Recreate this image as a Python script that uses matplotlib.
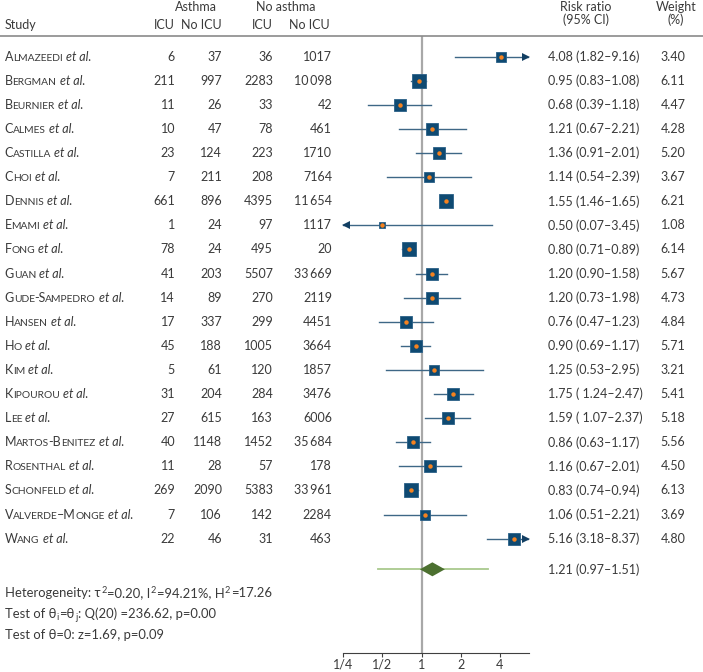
import numpy as np
import matplotlib
matplotlib.use("Agg")
import matplotlib.pyplot as plt
import matplotlib.transforms as mtransforms
from matplotlib.lines import Line2D

# study data
studies = ["Almazeedi", "Bergman", "Beurnier", "Calmes", "Castilla", "Choi", "Dennis",
           "Emami", "Fong", "Guan", "Gude-Sampedro", "Hansen", "Ho", "Kim", "Kipourou",
           "Lee", "Martos-Benitez", "Rosenthal", "Schonfeld", "Valverde\u2013Monge", "Wang"]
asthma_icu = [6, 211, 11, 10, 23, 7, 661, 1, 78, 41, 14, 17, 45, 5, 31, 27, 40, 11, 269, 7, 22]
asthma_noicu = [37, 997, 26, 47, 124, 211, 896, 24, 24, 203, 89, 337, 188, 61, 204, 615, 1148, 28, 2090, 106, 46]
noasthma_icu = [36, 2283, 33, 78, 223, 208, 4395, 97, 495, 5507, 270, 299, 1005, 120, 284, 163, 1452, 57, 5383, 142, 31]
noasthma_noicu = [1017, 10098, 42, 461, 1710, 7164, 11654, 1117, 20, 33669, 2119, 4451, 3664, 1857, 3476, 6006, 35684, 178, 33961, 2284, 463]
rr = [4.08, 0.95, 0.68, 1.21, 1.36, 1.14, 1.55, 0.50, 0.80, 1.20, 1.20, 0.76, 0.90, 1.25, 1.75, 1.59, 0.86, 1.16, 0.83, 1.06, 5.16]
ci_lo = [1.82, 0.83, 0.39, 0.67, 0.91, 0.54, 1.46, 0.07, 0.71, 0.90, 0.73, 0.47, 0.69, 0.53, 1.24, 1.07, 0.63, 0.67, 0.74, 0.51, 3.18]
ci_hi = [9.16, 1.08, 1.18, 2.21, 2.01, 2.39, 1.65, 3.45, 0.89, 1.58, 1.98, 1.23, 1.17, 2.95, 2.47, 2.37, 1.17, 2.01, 0.94, 2.21, 8.37]
weight = [3.40, 6.11, 4.47, 4.28, 5.20, 3.67, 6.21, 1.08, 6.14, 5.67, 4.73, 4.84, 5.71, 3.21, 5.41, 5.18, 5.56, 4.50, 6.13, 3.69, 4.80]
padded_ci = {"Kipourou", "Lee"}

# pooled estimate
pooled_rr, pooled_lo, pooled_hi = 1.21, 0.97, 1.51
pred_lo, pred_hi = 0.46, 3.25

xticks = [0.25, 0.5, 1, 2, 4]
xticklabels = ["1/4", "1/2", "1", "2", "4"]

W, H = 703, 672
FS = 9.0
TXT = "#3a3a3a"
FAM = ["Lato", "DejaVu Sans"]
NAVY = "#0f4a72"
CILINE = "#3e6786"

plt.rcParams["font.family"] = FAM

fig = plt.figure(figsize=(W / 100, H / 100), dpi=100)
renderer = fig.canvas.get_renderer()

# pixel coords measured from top-left
px = mtransforms.Affine2D().scale(1 / W, -1 / H).translate(0, 1) + fig.transFigure

x0, x1, y0, y1 = 343.3, 529.3, 36, 652.5
row0, step = 56.7, 24.1
ax = fig.add_axes([x0 / W, 1 - y1 / H, (x1 - x0) / W, (y1 - y0) / H])
ax.set_xscale("log", base=2)
xmin, xmax = 0.25, 2 ** 2.75
ax.set_xlim(xmin, xmax)
ax.set_ylim((y1 - row0) / step, (y0 - row0) / step)
ax.set_xticks(xticks)
ax.set_xticklabels(xticklabels)
ax.xaxis.set_minor_locator(matplotlib.ticker.NullLocator())
ax.set_yticks([])
for s in ["top", "left", "right"]:
    ax.spines[s].set_visible(False)
ax.spines["bottom"].set_color("#404040")
ax.spines["bottom"].set_linewidth(0.8)
ax.tick_params(axis="x", length=3, width=0.8, color="#404040", pad=1.5,
               labelsize=FS, labelcolor=TXT)
ax.patch.set_alpha(0)

ax.axvline(1, color="#a8a8a8", lw=1.6, zorder=1)

tip_r = mtransforms.offset_copy(ax.transData, fig=fig, x=-3, units="dots")
tip_l = mtransforms.offset_copy(ax.transData, fig=fig, x=3, units="dots")
n = len(studies)
for i in range(n):
    lo, hi = max(ci_lo[i], xmin), min(ci_hi[i], xmax)
    ax.plot([lo, hi], [i, i], color=CILINE, lw=1.0, zorder=2)
    if ci_hi[i] > xmax:
        ax.plot(xmax, i, marker=">", ms=5.5, color="#123f63", mew=0,
                transform=tip_r, clip_on=False, zorder=3)
    if ci_lo[i] < xmin:
        ax.plot(xmin, i, marker="<", ms=5.5, color="#123f63", mew=0,
                transform=tip_l, clip_on=False, zorder=3)
    side = (2.4 + 4.4 * np.sqrt(weight[i])) * 0.72
    ax.plot(rr[i], i, marker="s", ms=side, mfc=NAVY, mec="#2a6088", mew=0.6, zorder=3)
    ax.plot(rr[i], i, marker="o", ms=3.2, mfc="#f5821f", mec="none", zorder=4)
ax.set_xlim(xmin, xmax)

# pooled diamond
yp = n + 0.27
ax.plot([pred_lo, pred_hi], [yp, yp], color="#a9c98d", lw=1.3, zorder=2)
ax.fill([pooled_lo, pooled_rr, pooled_hi, pooled_rr], [yp, yp - 0.29, yp, yp + 0.29],
        color="#4c7030", zorder=3, lw=0)

# header
fig.add_artist(Line2D([0, W], [36, 36], transform=px, color="#8a8a8a", lw=1.2))


def t(x, y, s, ha="left", **kw):
    return fig.text(x, y, s, transform=px, ha=ha, va="center", fontsize=FS, color=TXT, **kw)


t(195.5, 7, "Asthma", ha="center")
t(286, 7, "No asthma", ha="center")
t(5, 25, "Study")
t(175, 25, "ICU", ha="right")
t(222, 25, "No ICU", ha="right")
t(273, 25, "ICU", ha="right")
t(330, 25, "No ICU", ha="right")
t(586, 7, "Risk ratio", ha="center")
t(586, 20, "(95% CI)", ha="center")
t(676, 7, "Weight", ha="center")
t(676, 20, "(%)", ha="center")


def runs(x, y, pieces, base, size=FS):
    off = 0.0
    for txt, scale, style, dy, gap in pieces:
        off += gap
        tf = mtransforms.offset_copy(base, fig=fig, x=off, y=-dy, units="dots")
        tx = fig.text(x, y, txt, transform=tf, ha="left", va="baseline",
                      fontsize=size * scale, style=style, color=TXT, family=FAM)
        off += tx.get_window_extent(renderer).width


def smallcaps(name):
    pieces = []
    cur, big = "", None
    for ch in name:
        b = not ch.islower()
        if big is None or b == big:
            cur += ch
        else:
            pieces.append((cur.upper(), 1.0 if big else 0.82, "normal", 4, -0.3))
            cur = ch
        big = b
    pieces.append((cur.upper(), 1.0 if big else 0.82, "normal", 4, -0.3))
    pieces.append(("et al.", 1.0, "italic", 4, 3.2))
    return pieces


def fmt(v):
    return f"{v:,}".replace(",", "\u2009") if v >= 10000 else str(v)


rowT = mtransforms.blended_transform_factory(px, ax.transData)
colx = [175, 222, 273, 332]
for i, name in enumerate(studies):
    runs(5, i, smallcaps(name), rowT)
    vals = [asthma_icu[i], asthma_noicu[i], noasthma_icu[i], noasthma_noicu[i]]
    for cx, v in zip(colx, vals):
        fig.text(cx, i, fmt(v), transform=rowT, ha="right", va="center", fontsize=FS, color=TXT)
    sp = " " if name in padded_ci else ""
    fig.text(548, i, f"{rr[i]:.2f} ({sp}{ci_lo[i]:.2f}\u2013{ci_hi[i]:.2f})", transform=rowT,
             ha="left", va="center", fontsize=FS, color=TXT)
    fig.text(673, i, f"{weight[i]:.2f}", transform=rowT, ha="center", va="center",
             fontsize=FS, color=TXT)

fig.text(548, yp, f"{pooled_rr:.2f} ({pooled_lo:.2f}\u2013{pooled_hi:.2f})", transform=rowT,
         ha="left", va="center", fontsize=FS, color=TXT)

# footnotes
FN = 9.4
runs(5, 597, [("Heterogeneity: \u03c4", 1, "normal", 0, 0), ("2", 0.7, "normal", -4, 0.5),
              ("=0.20, I", 1, "normal", 0, 0.5), ("2", 0.7, "normal", -4, 0.5),
              ("=94.21%, H", 1, "normal", 0, 0.5), ("2", 0.7, "normal", -4, 0.5),
              ("=17.26", 1, "normal", 0, 0.5)], px, FN)
runs(5, 618, [("Test of \u03b8", 1, "normal", 0, 0), ("i", 0.7, "normal", 2.5, 0.4),
              ("=\u03b8", 1, "normal", 0, 0.4), ("j", 0.7, "normal", 2.5, 0.4),
              (": Q(20) =236.62, p=0.00", 1, "normal", 0, 0.4)], px, FN)
runs(5, 639, [("Test of \u03b8=0: z=1.69, p=0.09", 1, "normal", 0, 0)], px, FN)

fig.savefig("out.png", dpi=100)
